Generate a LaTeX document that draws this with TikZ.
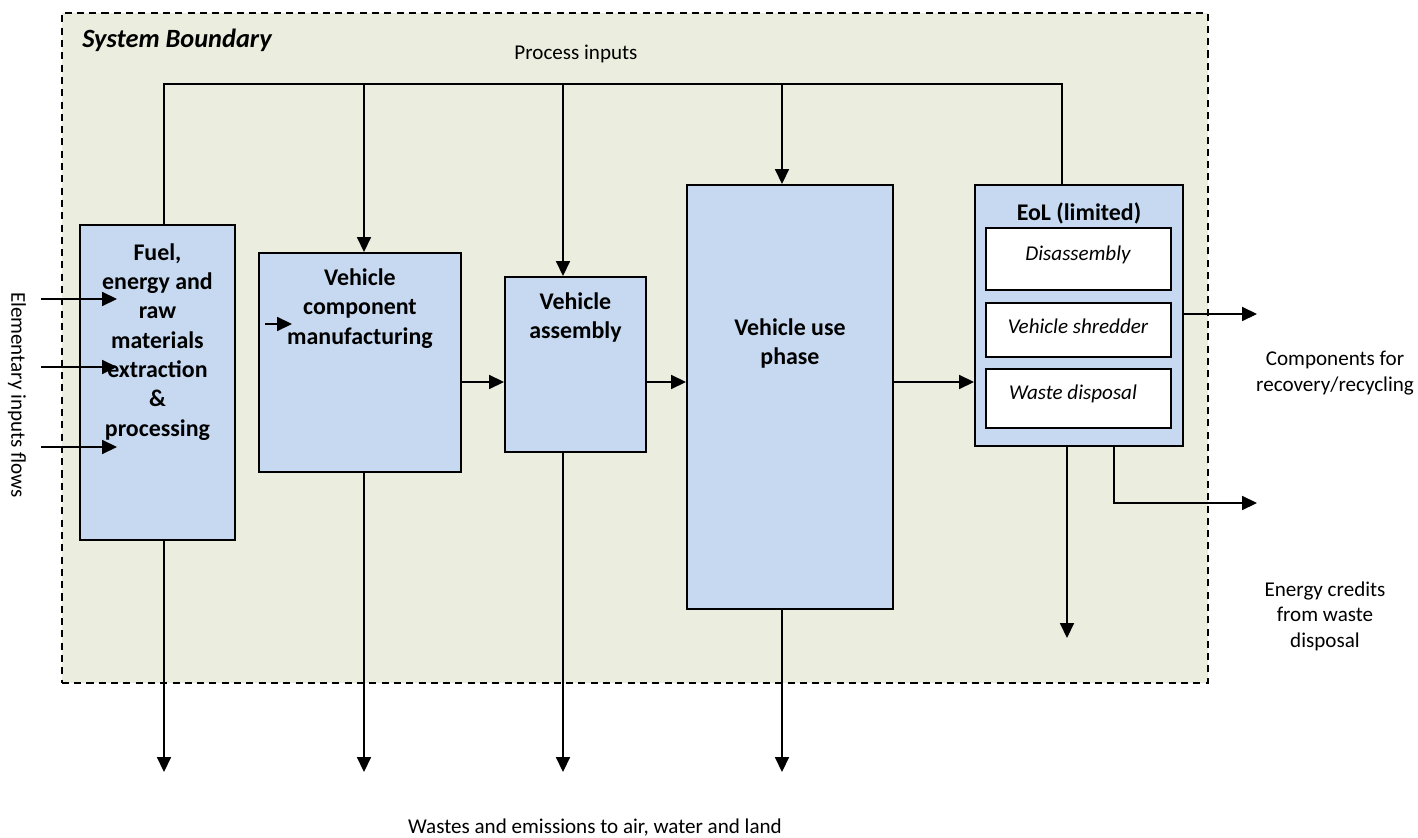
\documentclass[tikz,border=0pt]{standalone}
\usepackage{fontspec}
\setmainfont{Carlito}
\usetikzlibrary{arrows.meta,positioning}

\definecolor{boundfill}{HTML}{EBEEDE}
\definecolor{procfill}{HTML}{C6D9F1}

\tikzset{
  boundary/.style={draw, dashed, dash pattern=on 4pt off 3pt, line width=1pt, fill=boundfill, anchor=north west, inner sep=0pt},
  procbox/.style={draw, line width=1.1pt, fill=procfill, anchor=north west, inner sep=0pt},
  subbox/.style={draw, line width=1.1pt, fill=white, anchor=north west, inner sep=0pt, minimum width=3.70cm},
  boxtext/.style={font=\fontsize{13.6}{16.7}\selectfont\bfseries, align=center, inner sep=0pt},
  subtext/.style={font=\fontsize{12}{14.5}\selectfont\itshape, inner sep=0pt, anchor=base},
  flowlabel/.style={font=\fontsize{12}{14.5}\selectfont, align=center, inner sep=0pt},
  flow/.style={line width=0.9pt, -{Triangle[length=8.5pt,width=8pt]}},
  link/.style={line width=0.9pt},
}

\begin{document}
\begin{tikzpicture}[x=0.02cm, y=-0.02cm]
  \useasboundingbox (0,0) rectangle (1418,838);

  % System boundary
  \node[boundary, minimum width=22.92cm, minimum height=13.40cm] (sysbox) at (61,12) {};
  \node[font=\fontsize{15}{18}\selectfont\bfseries\itshape, anchor=west, inner sep=0pt] (sysname) at (82,40) {System Boundary};

  % Process boxes
  \node[procbox, minimum width=3.10cm, minimum height=6.30cm] (fuel) at (79,224) {};
  \node[procbox, minimum width=4.04cm, minimum height=4.38cm] (comp) at (258,252) {};
  \node[procbox, minimum width=2.82cm, minimum height=3.50cm] (asm)  at (504,276) {};
  \node[procbox, minimum width=4.12cm, minimum height=8.48cm] (use)  at (686,184) {};
  \node[procbox, minimum width=4.16cm, minimum height=5.22cm] (eol)  at (974,184) {};

  % Box titles
  \node[boxtext, below=0.38cm of fuel.north] (fuel-txt) {Fuel,\\energy and\\raw\\materials\\extraction\\\&\\processing};
  \node[boxtext, below=0.33cm of comp.north] (comp-txt) {Vehicle\\component\\manufacturing};
  \node[boxtext, below=0.33cm of asm.north]  (asm-txt)  {Vehicle\\assembly};
  \node[boxtext, below=2.69cm of use.north]  (use-txt)  {Vehicle use\\phase};
  \node[boxtext, below=0.37cm of eol.north]  (eol-txt)  {EoL (limited)};

  % EoL sub-steps
  \node[subbox, minimum height=1.24cm] (dis)  at (985,227) {};
  \node[subbox, minimum height=1.08cm] (shr)  at (985,302) {};
  \node[subbox, minimum height=1.18cm] (wdis) at (985,368) {};
  \node[subtext] (dis-txt)  at (1078,260) {Disassembly};
  \node[subtext] (shr-txt)  at (1078,334) {Vehicle shredder};
  \node[subtext] (wdis-txt) at (1073,399) {Waste disposal};

  % Outside labels
  \node[flowlabel] (procin) at (576,54) {Process inputs};
  \node[flowlabel, rotate=-90] (elem) at (17,395) {Elementary inputs flows};
  \node[flowlabel] (recyc) at (1335,373) {Components for\\recovery/recycling};
  \node[flowlabel] (credit) at (1325,616) {Energy credits\\from waste\\disposal};
  \node[flowlabel] (waste) at (595,828) {Wastes and emissions to air, water and land};

  % Process inputs bus
  \coordinate (busL) at (164,84);
  \coordinate (busR) at (1062,84);
  \draw[link] (fuel.north -| busL) -- (busL) -- (busR) -- (eol.north -| busR);
  \coordinate (tap1) at (364,84);
  \coordinate (tap2) at (563,84);
  \coordinate (tap3) at (782,84);
  \draw[flow] (tap1) -- (tap1 |- comp.north);
  \draw[flow] (tap2) -- (tap2 |- asm.north);
  \draw[flow] (tap3) -- (tap3 |- use.north);

  % Elementary inputs
  \foreach \y [count=\i] in {299,367,447} {
    \coordinate (src\i) at (41,\y);
    \coordinate (dst\i) at (117,\y);
    \draw[flow] (src\i) -- (dst\i);
  }
  \coordinate (csrc) at (265,324);
  \coordinate (cdst) at (292,324);
  \draw[flow] (csrc) -- (cdst);

  % Main chain
  \coordinate (chain) at (0,382);
  \draw[flow] (comp.east |- chain) -- (asm.west |- chain);
  \draw[flow] (asm.east |- chain) -- (use.west |- chain);
  \draw[flow] (use.east |- chain) -- (eol.west |- chain);

  % Wastes and emissions
  \foreach \bx/\x in {fuel/164, comp/364, asm/563, use/782} {
    \coordinate (out-\bx) at (\x,772);
    \draw[flow] (\bx.south -| out-\bx) -- (out-\bx);
  }

  % EoL outputs
  \coordinate (rec) at (1257,314);
  \coordinate (cred) at (1257,503);
  \coordinate (eolw) at (1067,638);
  \coordinate (eolc) at (1114,446);
  \draw[flow] (eol.east |- rec) -- (rec);
  \draw[flow] (eol.south -| eolc) |- (cred);
  \draw[flow] (eol.south -| eolw) -- (eolw);

\end{tikzpicture}
\end{document}
